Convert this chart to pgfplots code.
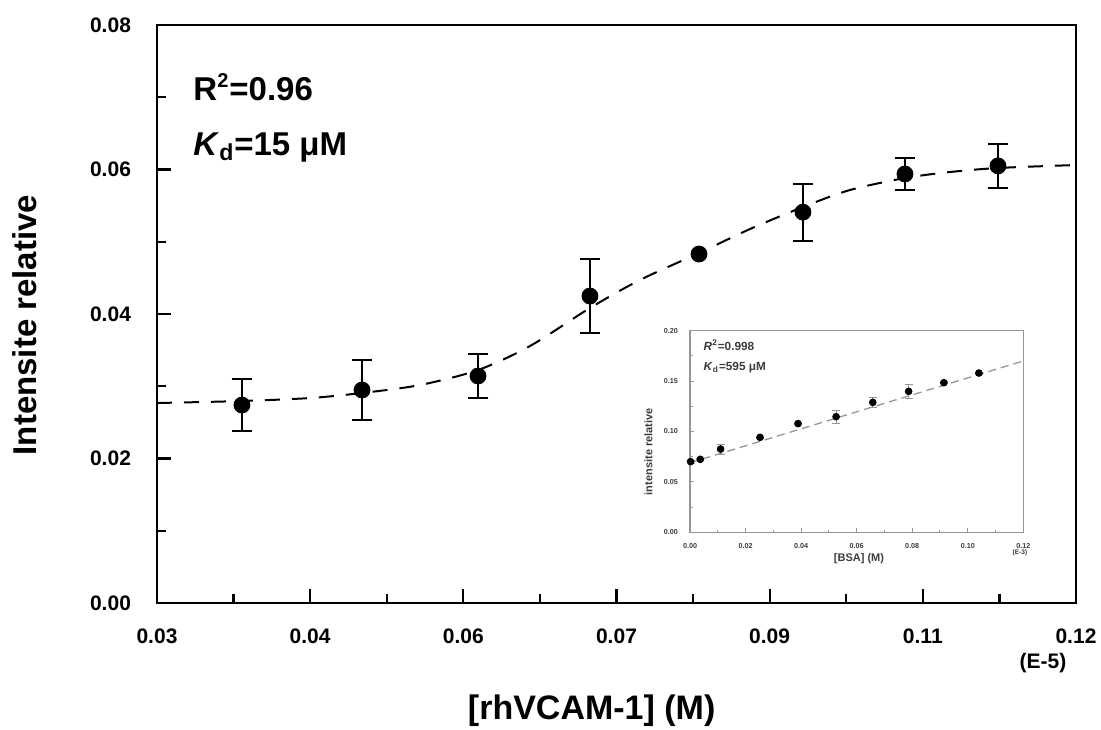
\documentclass[border=0pt]{standalone}
\usepackage{fontspec}
\setmainfont{Liberation Sans}
\usepackage{pgfplots}
\pgfplotsset{compat=1.18}
\definecolor{insetgray}{RGB}{150,150,150}
\definecolor{insettext}{RGB}{60,60,60}

\begin{document}
\begin{tikzpicture}
\path[use as bounding box] (0,0) rectangle (550.5pt,364.5pt);

% main plot
\begin{axis}[
    at={(78.5pt,63pt)}, anchor=south west,
    scale only axis, width=459.5pt, height=289pt,
    xmin=0.03, xmax=0.12, ymin=0, ymax=0.08,
    scaled ticks=false,
    xtick={0.03,0.045,0.06,0.075,0.09,0.105,0.12},
    xticklabels={0.03,0.04,0.06,0.07,0.09,0.11,0.12},
    minor xtick={0.0375,0.0525,0.0675,0.0825,0.0975,0.1125},
    ytick={0,0.02,0.04,0.06,0.08},
    yticklabels={0.00,0.02,0.04,0.06,0.08},
    minor ytick={0.01,0.03,0.05,0.07},
    tick align=inside, tick pos=left,
    major tick length=7pt, minor tick length=4.5pt,
    every tick/.style={black, line width=1.1pt},
    axis line style={line width=1.1pt},
    ticklabel style={font=\fontsize{10.5}{12}\selectfont\bfseries},
    xticklabel style={yshift=-9.5pt},
    yticklabel style={xshift=-9.5pt},
    xlabel={{[}rhVCAM-1{]} (M)},
    xlabel style={at={(axis description cs:0.473,-0.187)}, anchor=center,
        font=\fontsize{17}{20}\selectfont\bfseries},
    ylabel={Intensite relative},
    ylabel style={at={(axis description cs:-0.1436,0.481)}, anchor=center,
        font=\fontsize{16.5}{20}\selectfont\bfseries},
    clip mode=individual,
]
% fitted curve
\addplot[black, line width=1pt, dash pattern=on 7.5pt off 6pt, smooth] coordinates {
    (0.0300,0.02768) (0.03832,0.02796) (0.04498,0.02837) (0.05008,0.02907)
    (0.05575,0.03017) (0.06144,0.03225) (0.06653,0.03557) (0.07240,0.04083)
    (0.07730,0.04471) (0.08308,0.04844) (0.08807,0.05176) (0.09326,0.05481)
    (0.09786,0.05716) (0.10325,0.05882) (0.10765,0.05965) (0.11236,0.06021)
    (0.12000,0.06062)
};
% measured points with error bars
\addplot[black, only marks, mark=*, mark size=4pt,
    error bars/.cd, y dir=both, y explicit,
    error bar style={line width=1pt},
    error mark options={rotate=90, mark size=5pt, line width=1pt, black}
] table[x=x, y=y, y error=e] {
    x        y        e
    0.03832  0.02740  0.00355
    0.05008  0.02948  0.00415
    0.06144  0.03142  0.00310
    0.07240  0.04249  0.00510
    0.09326  0.05410  0.00395
    0.10325  0.05938  0.00225
    0.11236  0.06050  0.00300
};
\addplot[black, only marks, mark=*, mark size=4pt] coordinates {(0.08308,0.04830)};

\node[anchor=base west, inner sep=0, font=\fontsize{16.5}{20}\selectfont\bfseries]
    at (axis description cs:0.0392,0.870) {R\textsuperscript{\fontsize{10}{10}\selectfont 2}=0.96};
\node[anchor=base west, inner sep=0, font=\fontsize{16.5}{20}\selectfont\bfseries]
    at (axis description cs:0.0392,0.775) {\textit{K}\textsubscript{d}=15 μM};
\node[anchor=center, inner sep=0, font=\fontsize{10.5}{12}\selectfont\bfseries]
    at (axis description cs:0.964,-0.1038) {(E-5)};
\end{axis}

% inset plot
\begin{axis}[
    at={(345pt,98.35pt)}, anchor=south west,
    scale only axis, width=166.65pt, height=100.8pt,
    xmin=0, xmax=0.12, ymin=0, ymax=0.2,
    scaled ticks=false,
    xtick={0,0.02,0.04,0.06,0.08,0.10,0.12},
    xticklabels={0.00,0.02,0.04,0.06,0.08,0.10,0.12},
    minor xtick={0.01,0.03,0.05,0.07,0.09,0.11},
    ytick={0,0.05,0.1,0.15,0.2},
    yticklabels={0.00,0.05,0.10,0.15,0.20},
    minor ytick={0.025,0.075,0.125,0.175},
    tick align=inside, tick pos=left,
    major tick length=2.2pt, minor tick length=1.4pt,
    every tick/.style={insetgray, line width=0.5pt},
    axis line style={insetgray, line width=0.6pt},
    ticklabel style={font=\fontsize{3.6}{4}\selectfont\bfseries, text=insettext},
    xticklabel style={yshift=-2.2pt},
    yticklabel style={xshift=-2.5pt},
    xlabel={{[}BSA{]} (M)},
    xlabel style={at={(axis description cs:0.507,-0.131)}, anchor=center,
        font=\fontsize{5.5}{6}\selectfont\bfseries, text=insettext},
    ylabel={intensite relative},
    ylabel style={at={(axis description cs:-0.125,0.40)}, anchor=center,
        font=\fontsize{5.5}{6}\selectfont\bfseries, text=insettext},
    clip mode=individual,
]
\addplot[insetgray, line width=0.65pt, dash pattern=on 4pt off 2.5pt] coordinates {
    (0,0.0690) (0.12,0.1700)
};
\addplot[black, only marks, mark=*, mark size=1.7pt,
    error bars/.cd, y dir=both, y explicit,
    error bar style={insetgray, line width=0.5pt},
    error mark options={rotate=90, mark size=2pt, line width=0.5pt, insetgray}
] table[x=x, y=y, y error=e] {
    x        y        e
    0.0002   0.0701   0.0015
    0.0037   0.0724   0.0010
    0.0110   0.0826   0.0050
    0.0252   0.0942   0.0010
    0.0389   0.1078   0.0010
    0.0526   0.1147   0.0066
    0.0658   0.1289   0.0048
    0.0787   0.1398   0.0066
    0.0914   0.1484   0.0010
    0.1040   0.1580   0.0010
};
\node[anchor=base west, inner sep=0, font=\fontsize{5.9}{7}\selectfont\bfseries, text=insettext]
    at (axis description cs:0.040,0.901) {\textit{R}\textsuperscript{2}=0.998};
\node[anchor=base west, inner sep=0, font=\fontsize{5.9}{7}\selectfont\bfseries, text=insettext]
    at (axis description cs:0.040,0.805) {\textit{K}\textsubscript{d}=595 μM};
\node[anchor=north, inner sep=0, font=\fontsize{3.3}{4}\selectfont\bfseries, text=insettext]
    at (axis description cs:0.99,-0.082) {(E-3)};
\end{axis}
\end{tikzpicture}
\end{document}
